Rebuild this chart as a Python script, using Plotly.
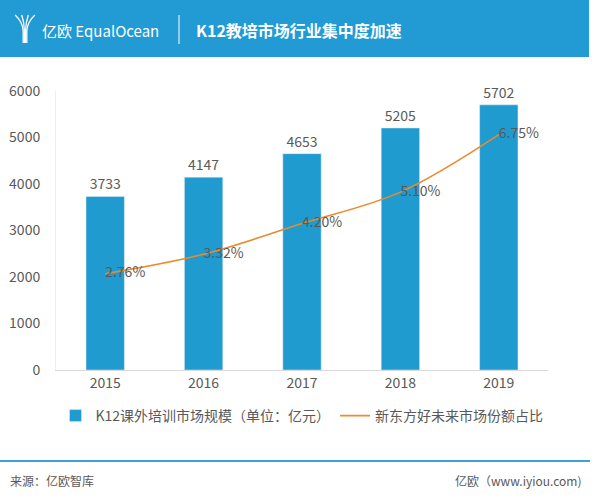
import plotly.graph_objects as go

years = ["2015", "2016", "2017", "2018", "2019"]
market_size = [3733, 4147, 4653, 5205, 5702]
share_pct = [2.76, 3.32, 4.20, 5.10, 6.75]
share_labels = ["2.76%", "3.32%", "4.20%", "5.10%", "6.75%"]

bar_name = "K12课外培训市场规模（单位：亿元）"
line_name = "新东方好未来市场份额占比"
title_text = "K12教培市场行业集中度加速"
source_text = "来源：亿欧智库"
site_text = "亿欧（www.iyiou.com)"

FONT = "Noto Sans CJK SC, Noto Sans, sans-serif"
BLUE = "#1F9BD0"
ORANGE = "#EC8A2C"
GRAY = "#595959"

W, H = 600, 499
ML, MR, MT, MB = 56, 52, 91, 129
PW = W - ML - MR
PH = H - MT - MB


def px(x):
    return (x - ML) / PW


def py(y):
    return (H - MB - y) / PH


fig = go.Figure()
fig.add_trace(go.Bar(
    x=years, y=market_size, name=bar_name,
    marker=dict(color=BLUE), width=0.39,
    text=[str(v) for v in market_size], textposition="outside",
    textfont=dict(size=14, color=GRAY, family=FONT),
    cliponaxis=False,
))
fig.add_trace(go.Scatter(
    x=years, y=share_pct, name=line_name, yaxis="y2",
    mode="lines+text", line=dict(color=ORANGE, width=1.6, shape="spline"),
    text=share_labels, textposition="middle right",
    textfont=dict(size=14, color=GRAY, family=FONT),
    cliponaxis=False,
))

shapes = [
    dict(type="rect", xref="paper", yref="paper", x0=px(0), x1=px(589), y0=py(57), y1=py(0),
         fillcolor="#229AD3", line=dict(width=0), layer="below"),
    dict(type="line", xref="paper", yref="paper", x0=px(179), x1=px(179), y0=py(15), y1=py(44),
         line=dict(color="white", width=1)),
    dict(type="line", xref="paper", yref="paper", x0=px(0), x1=px(590), y0=py(461), y1=py(461),
         line=dict(color="#3DA3D6", width=2)),
]

# logo: parallel curved strokes forming a "Y"
for dx in [-4.5, -1.5, 1.5, 4.5]:
    path = "M {:.4f},{:.4f} Q {:.4f},{:.4f} {:.4f},{:.4f} L {:.4f},{:.4f}".format(
        px(25 + dx * 2.2), py(15), px(25 + dx * 0.5), py(22), px(25 + dx * 0.4), py(31),
        px(25 + dx * 0.4), py(43))
    shapes.append(dict(type="path", xref="paper", yref="paper", path=path,
                       line=dict(color="white", width=1.3)))

annotations = [
    dict(text="亿欧 EqualOcean", x=px(40), y=py(30), xref="paper", yref="paper",
         xanchor="left", yanchor="middle", showarrow=False,
         font=dict(size=15, color="white", family=FONT)),
    dict(text="<b>" + title_text + "</b>", x=px(194), y=py(30), xref="paper", yref="paper",
         xanchor="left", yanchor="middle", showarrow=False,
         font=dict(size=16, color="white", family=FONT)),
    dict(text=source_text, x=px(8), y=py(480), xref="paper", yref="paper",
         xanchor="left", yanchor="middle", showarrow=False,
         font=dict(size=12, color=GRAY, family=FONT)),
    dict(text=site_text, x=px(584), y=py(480), xref="paper", yref="paper",
         xanchor="right", yanchor="middle", showarrow=False,
         font=dict(size=12, color=GRAY, family=FONT)),
]

fig.update_layout(
    width=W, height=H,
    margin=dict(l=ML, r=MR, t=MT, b=MB, pad=0, autoexpand=False),
    paper_bgcolor="white", plot_bgcolor="white",
    font=dict(family=FONT, color=GRAY, size=14),
    showlegend=True,
    legend=dict(orientation="h", x=0.5, xanchor="center", y=py(416), yanchor="middle",
                font=dict(size=14, color=GRAY, family=FONT), itemwidth=30,
                traceorder="normal", itemclick=False),
    xaxis=dict(showline=True, linecolor="#D9D9D9", linewidth=1, ticks="",
               tickfont=dict(size=14, color=GRAY), showgrid=False, fixedrange=True,
               automargin=False),
    yaxis=dict(range=[0, 6000], dtick=1000, showgrid=False, zeroline=False,
               showline=True, linecolor="#EDEDED", linewidth=1, ticks="",
               tickfont=dict(size=14, color=GRAY), ticklabelstandoff=12, fixedrange=True,
               automargin=False),
    yaxis2=dict(range=[0, 8], overlaying="y", side="right", visible=False, fixedrange=True,
                automargin=False),
    shapes=shapes,
    annotations=annotations,
    bargap=0.61,
)

fig.write_html("out.html", config={"displayModeBar": False},
               post_script="document.body.style.margin='0';document.body.style.padding='0';")
